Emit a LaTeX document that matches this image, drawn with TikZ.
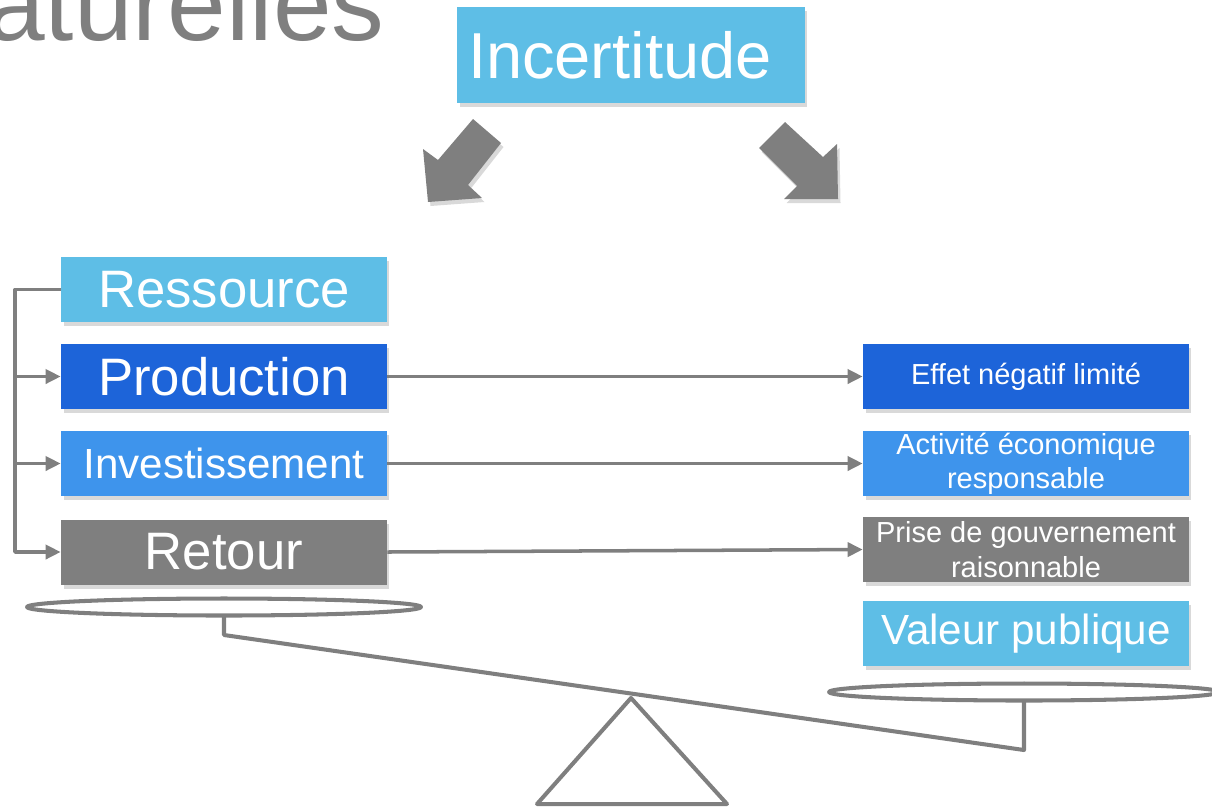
\documentclass[tikz,border=0pt]{standalone}
\usepackage{fontspec}
\setmainfont{Liberation Sans}
\usetikzlibrary{arrows.meta}
\usetikzlibrary{shadows}

\definecolor{skyblue}{RGB}{94,190,230}
\definecolor{deepblue}{RGB}{29,100,217}
\definecolor{midblue}{RGB}{62,148,236}
\definecolor{scalegrey}{RGB}{127,127,127}

\tikzset{
	softshadow/.style={drop shadow={opacity=0.3, shadow xshift=0.5mm, shadow yshift=-0.8mm}},
	box/.style={text=white, inner sep=0pt, minimum width=6.52cm, minimum height=1.3cm, align=center, softshadow},
	link/.style={draw=scalegrey, line width=2pt, line join=round, -{Triangle[length=0.3cm, width=0.28cm]}},
	beam/.style={draw=scalegrey, line width=2.3pt, line join=round}
}

\begin{document}
\begin{tikzpicture}[x=0.02cm, y=-0.02cm]
			\useasboundingbox (0,0) rectangle (1212,809);

			\node[anchor=base east, inner sep=0pt, text=scalegrey, font=\fontsize{60pt}{60pt}\selectfont] (title) at (385,40) {naturelles};

			\node[box, fill=skyblue, text width=6.52cm, inner xsep=0.22cm, align=left, minimum height=1.92cm, font=\fontsize{37pt}{40pt}\selectfont] (incert) at (631,55) {Incertitude};

			% big arrows
			\fill[scalegrey, softshadow] (473,119) -- (501,143) -- (468,185) -- (482,198) -- (428,202) -- (423,149) -- (438,160) -- cycle;
			\fill[scalegrey, softshadow] (785,122) -- (823,157) -- (837,144) -- (838,199) -- (784,199) -- (797,186) -- (759,148) -- cycle;

			% left column
			\node[box, fill=skyblue, font=\fontsize{30pt}{34pt}\selectfont] (res) at (224,289.5) {Ressource};
			\node[box, fill=deepblue, font=\fontsize{30pt}{34pt}\selectfont] (prod) at (224,376.5) {Production};
			\node[box, fill=midblue, font=\fontsize{24pt}{28pt}\selectfont] (inv) at (224,463.5) {Investissement};
			\node[box, fill=scalegrey, font=\fontsize{30pt}{34pt}\selectfont] (ret) at (224,552) {Retour};

			% right column
			\node[box, fill=deepblue, font=\fontsize{16.5pt}{19.5pt}\selectfont] (effet) at (1026,376.5) {Effet négatif limité};
			\node[box, fill=midblue, font=\fontsize{16.5pt}{19.5pt}\selectfont] (activ) at (1026,463.5) {Activité économique\\responsable};
			\node[box, fill=scalegrey, font=\fontsize{16.5pt}{19.5pt}\selectfont] (prise) at (1026,549.5) {Prise de gouvernement\\raisonnable};
			\node[box, fill=skyblue, font=\fontsize{24pt}{28pt}\selectfont] (valeur) at (1026,633.5) {\raisebox{-0.08cm}{Valeur publique}};

			% connectors
			\coordinate (spine) at (15,289.5);
			\draw[link] (res.west) -- (spine) |- (ret.west);
			\draw[link] (spine |- prod.west) -- (prod.west);
			\draw[link] (spine |- inv.west) -- (inv.west);
			\draw[link] (prod.east) -- (effet.west);
			\draw[link] (inv.east) -- (activ.west);
			\draw[link] (ret.east) -- (prise.west);

			% scale
			\coordinate (leftpan) at (224,607);
			\coordinate (rightpan) at (1024,692);
			\coordinate (leftend) at (224,635);
			\coordinate (rightend) at (1024,750);
			\draw[beam] (leftpan) ellipse [x radius=3.94cm, y radius=0.17cm];
			\draw[beam] (rightpan) ellipse [x radius=3.9cm, y radius=0.17cm];
			\draw[beam] (224,616) -- (leftend) -- (rightend) -- (1024,701);
			\draw[beam] (631,698) -- (727,804) -- (537,804) -- cycle;
\end{tikzpicture}
\end{document}
